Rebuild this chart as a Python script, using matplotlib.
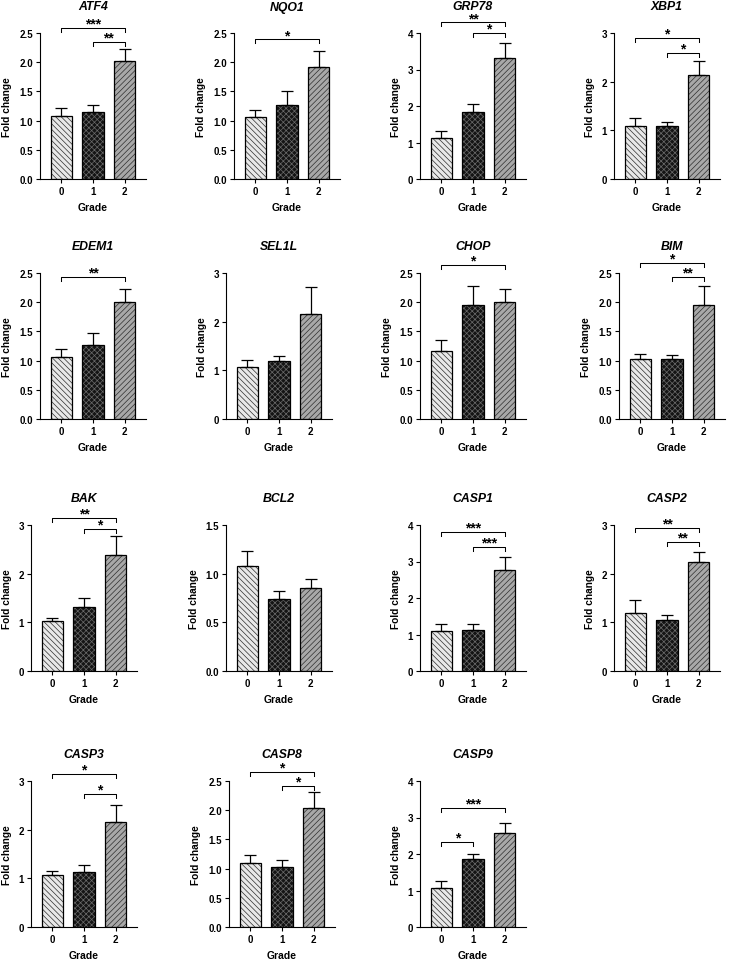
import matplotlib.pyplot as plt
import numpy as np

plt.rcParams['font.family'] = ['Liberation Sans', 'DejaVu Sans']
plt.rcParams['font.weight'] = 'bold'
plt.rcParams['hatch.linewidth'] = 0.5

# data
genes = ['ATF4', 'NQO1', 'GRP78', 'XBP1',
         'EDEM1', 'SEL1L', 'CHOP', 'BIM',
         'BAK', 'BCL2', 'CASP1', 'CASP2',
         'CASP3', 'CASP8', 'CASP9']
grades = [0, 1, 2]
means = [
    [1.08, 1.14, 2.02], [1.07, 1.27, 1.91], [1.11, 1.83, 3.32], [1.08, 1.08, 2.13],
    [1.06, 1.27, 2.01], [1.07, 1.20, 2.15], [1.16, 1.96, 2.01], [1.02, 1.02, 1.96],
    [1.02, 1.32, 2.39], [1.08, 0.74, 0.85], [1.10, 1.12, 2.76], [1.20, 1.04, 2.23],
    [1.06, 1.12, 2.16], [1.09, 1.02, 2.04], [1.08, 1.85, 2.57],
]
sem = [
    [0.14, 0.12, 0.20], [0.12, 0.23, 0.29], [0.20, 0.23, 0.41], [0.17, 0.09, 0.29],
    [0.14, 0.21, 0.22], [0.14, 0.09, 0.57], [0.19, 0.32, 0.21], [0.09, 0.08, 0.32],
    [0.07, 0.17, 0.39], [0.15, 0.08, 0.10], [0.18, 0.16, 0.37], [0.25, 0.12, 0.22],
    [0.10, 0.15, 0.35], [0.15, 0.13, 0.27], [0.18, 0.16, 0.29],
]
ymax = [2.5, 2.5, 4, 3, 2.5, 3, 2.5, 2.5, 3, 1.5, 4, 3, 3, 2.5, 4]
ystep = [0.5, 0.5, 1, 1, 0.5, 1, 0.5, 0.5, 1, 0.5, 1, 1, 1, 0.5, 1]
# significance brackets: (from grade, to grade, height, label)
sig = [
    [(0, 2, 2.58, '***'), (1, 2, 2.34, '**')],
    [(0, 2, 2.39, '*')],
    [(0, 2, 4.29, '**'), (1, 2, 4.00, '*')],
    [(0, 2, 2.89, '*'), (1, 2, 2.59, '*')],
    [(0, 2, 2.44, '**')],
    [],
    [(0, 2, 2.64, '*')],
    [(0, 2, 2.67, '*'), (1, 2, 2.44, '**')],
    [(0, 2, 3.14, '**'), (1, 2, 2.92, '*')],
    [],
    [(0, 2, 3.81, '***'), (1, 2, 3.41, '***')],
    [(0, 2, 2.94, '**'), (1, 2, 2.66, '**')],
    [(0, 2, 3.14, '*'), (1, 2, 2.73, '*')],
    [(0, 2, 2.65, '*'), (1, 2, 2.41, '*')],
    [(0, 2, 3.25, '***'), (0, 1, 2.34, '*')],
]

# layout: axes left / top in pixels
W, H = 729, 962
AX_W, AX_H = 106, 146
panel_pos = [
    (40, 34), (234, 34), (420, 34), (614, 34),
    (40, 274), (226, 274), (420, 274), (619, 274),
    (31, 526), (226, 526), (420, 526), (614, 526),
    (31, 782), (229, 782), (420, 782),
]

faces = ['#e8e8e8', '#141414', '#a8a8a8']
hatch_cols = ['#2e2e2e', '#6a6a6a', '#2e2e2e']
hatches = ['\\\\\\\\\\\\', 'xxxxxx', '//////']

fig = plt.figure(figsize=(W / 100, H / 100), dpi=100)

for i, gene in enumerate(genes):
    left, top = panel_pos[i]
    ax = fig.add_axes([left / W, 1 - (top + AX_H) / H, AX_W / W, AX_H / H])
    x = np.array(grades)
    m = means[i]
    for j in range(3):
        ax.bar(x[j], m[j], 0.67, color=faces[j], edgecolor=hatch_cols[j],
               hatch=hatches[j], linewidth=0, zorder=2)
    ax.bar(x, m, 0.67, fill=False, edgecolor='black', linewidth=0.9, zorder=3)
    ax.errorbar(x, m, yerr=[[0, 0, 0], sem[i]], fmt='none', ecolor='black',
                elinewidth=0.9, capsize=4, capthick=0.9, zorder=4)

    ax.set_xlim(-0.68, 2.68)
    ax.set_ylim(0, ymax[i])
    ticks = np.arange(0, ymax[i] + 1e-6, ystep[i])
    ax.set_yticks(ticks)
    if ystep[i] < 1:
        ax.set_yticklabels(['%.1f' % t for t in ticks])
    else:
        ax.set_yticklabels(['%d' % t for t in ticks])
    ax.set_xticks(x)
    ax.set_xticklabels([str(g) for g in grades])
    ax.spines['top'].set_visible(False)
    ax.spines['right'].set_visible(False)
    ax.spines['left'].set_linewidth(0.8)
    ax.spines['bottom'].set_linewidth(0.8)
    ax.tick_params(direction='out', length=3, width=0.8, labelsize=7, pad=2)
    ax.set_ylabel('Fold change', fontsize=7.3, fontweight='bold', labelpad=5)
    ax.set_xlabel('Grade', fontsize=7.5, fontweight='bold', labelpad=4.5)

    ax.text(0.5, 1 + 26.5 / AX_H, gene, transform=ax.transAxes, ha='center',
            va='center', fontsize=8.8, fontweight='bold', style='italic')

    drop = 4 / AX_H * ymax[i]
    for a, b, h, lab in sig[i]:
        ax.plot([a, a, b, b], [h - drop, h, h, h - drop], color='black',
                linewidth=0.75, clip_on=False)
        ax.annotate(lab, xy=((a + b) / 2, h), xytext=(0, 0.3),
                    textcoords='offset points', ha='center', va='baseline',
                    fontsize=10, fontweight='bold', annotation_clip=False)

fig.savefig('out.png', dpi=100)
